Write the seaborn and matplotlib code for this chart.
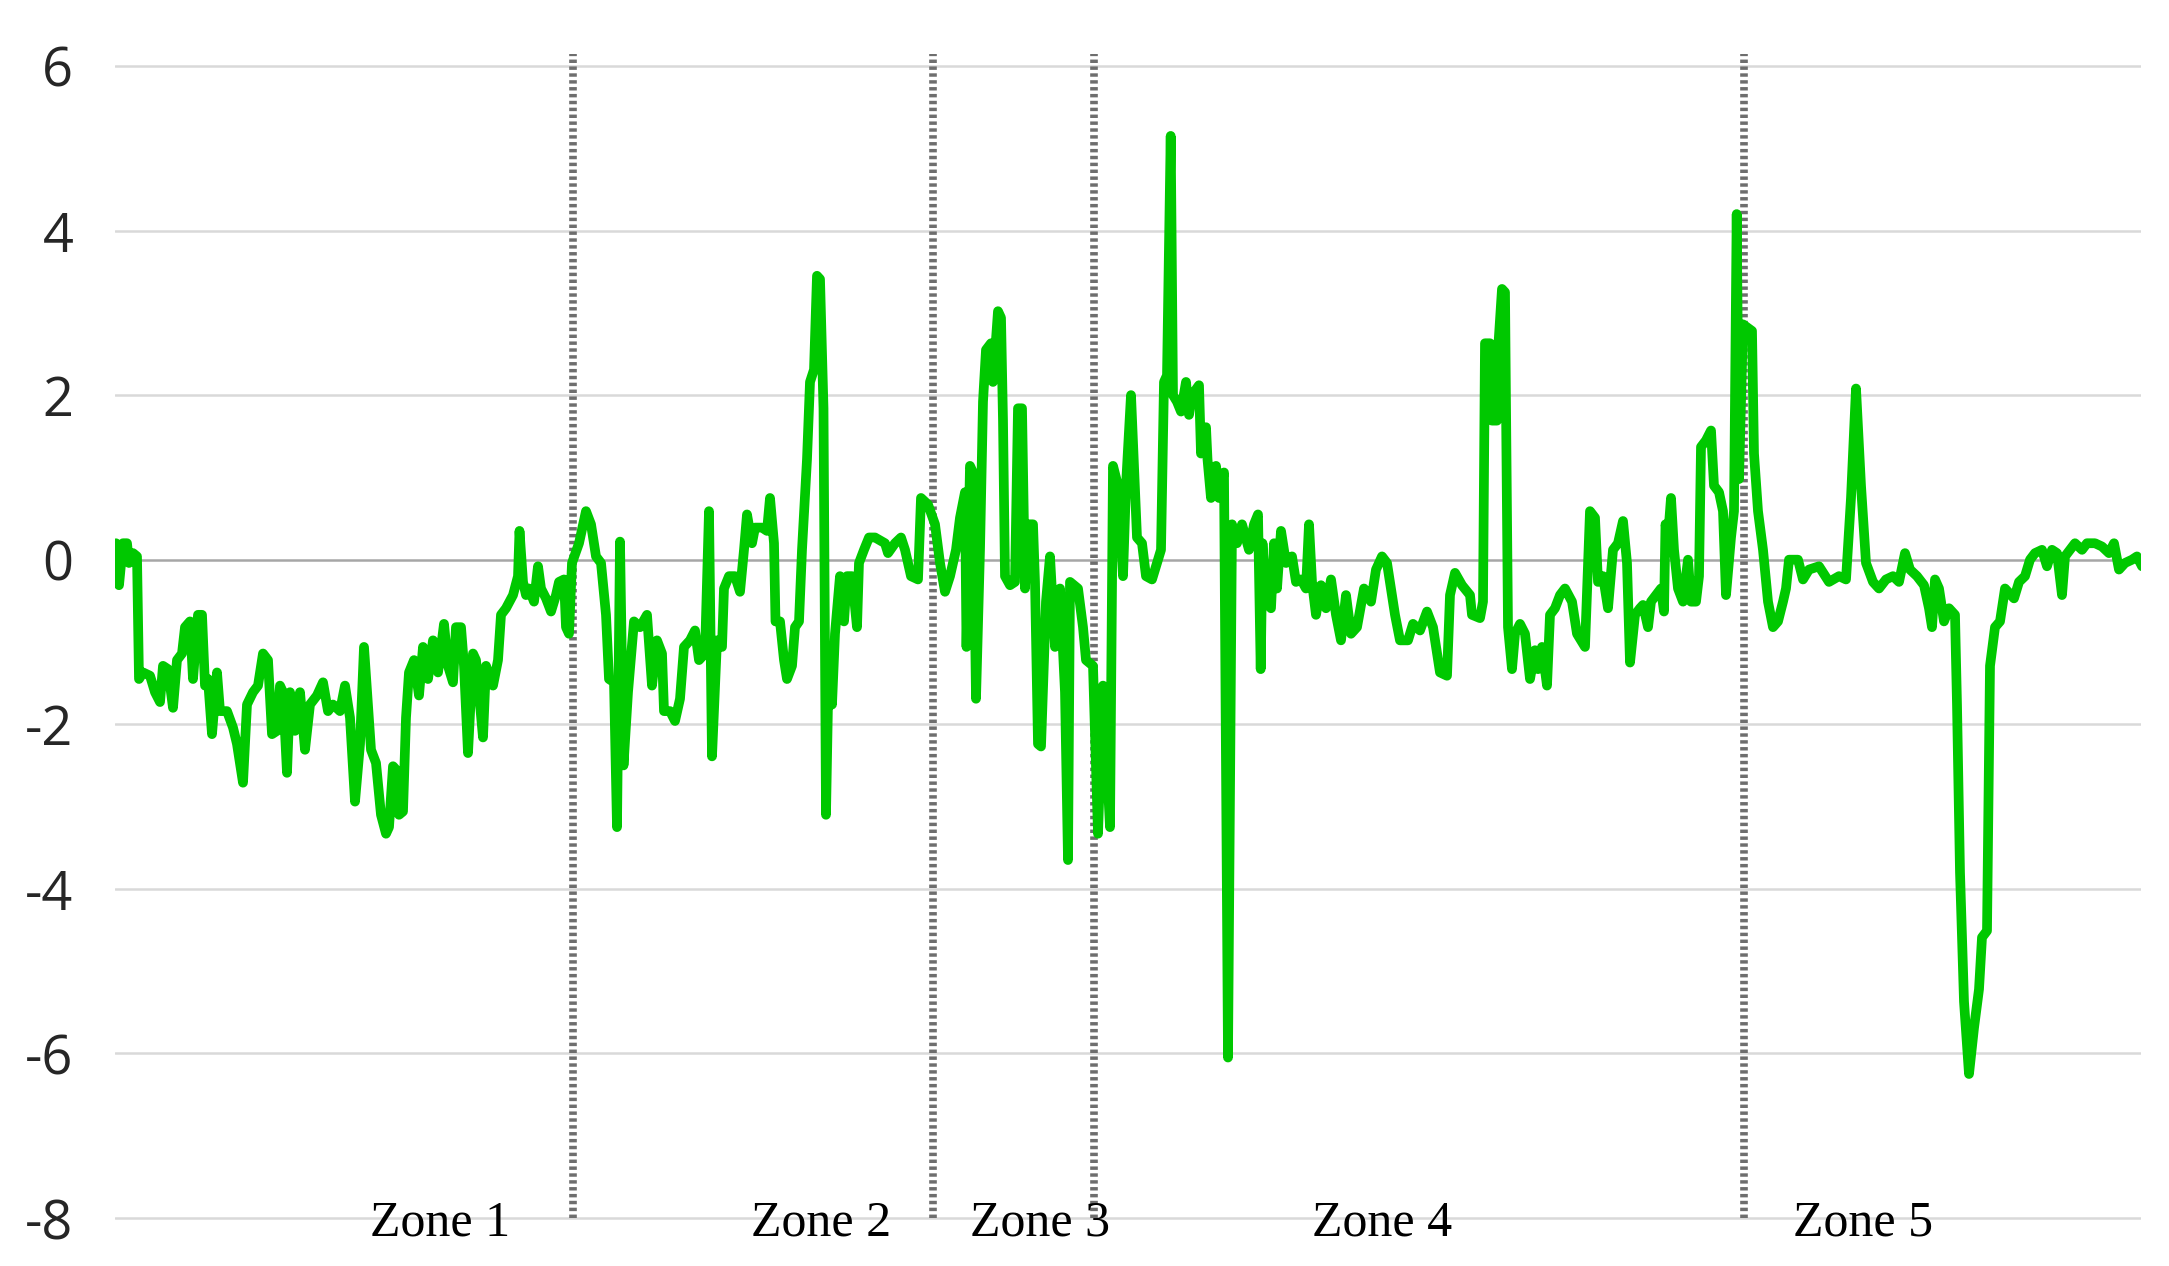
import numpy as np
import pandas as pd
import matplotlib
matplotlib.use("Agg")
import matplotlib.pyplot as plt
import seaborn as sns

# signal, split at the zone borders
zone1_t = [0, 1, 4, 8, 12, 14, 18, 22, 24, 28, 35, 40, 45, 48, 53, 58, 62, 67, 70, 75,
           78, 83, 87, 90, 93, 97, 102, 105, 112, 118, 122, 128, 132, 138, 143, 148, 153,
           157, 162, 165, 168, 172, 175, 180, 185, 190, 195, 202, 208, 213, 218, 225, 230,
           235, 240, 245, 249, 256, 261, 266, 271, 274, 278, 281, 284, 288, 291, 294, 299,
           304, 308, 313, 318, 323, 329, 333, 338, 341, 346, 349, 353, 358, 361, 368, 371,
           378, 383, 386, 391, 398, 403, 404.5, 408, 411, 414, 419, 423, 426, 431, 436, 441,
           444, 449, 451, 454, 457]
zone1_v = [-0.04, 0.2, -0.31, 0.2, 0.2, -0.04, 0.08, 0.04, -1.45, -1.37, -1.41, -1.61, -1.73,
           -1.29, -1.33, -1.8, -1.22, -1.14, -0.82, -0.75, -1.45, -0.67, -0.67, -1.53, -1.45,
           -2.12, -1.37, -1.84, -1.84, -2.04, -2.24, -2.71, -1.76, -1.61, -1.53, -1.14, -1.22,
           -2.12, -2.08, -1.53, -1.61, -2.59, -1.61, -2.08, -1.61, -2.31, -1.76, -1.65, -1.49,
           -1.84, -1.76, -1.84, -1.53, -1.92, -2.94, -2.24, -1.06, -2.31, -2.47, -3.1, -3.33,
           -3.25, -2.51, -2.55, -3.1, -3.06, -1.92, -1.37, -1.22, -1.65, -1.06, -1.45, -0.98,
           -1.37, -0.78, -1.29, -1.49, -0.82, -0.82, -1.29, -2.35, -1.14, -1.22, -2.16, -1.29,
           -1.53, -1.22, -0.67, -0.59, -0.43, -0.2, 0.35, -0.27, -0.43, -0.35, -0.51, -0.08,
           -0.35, -0.47, -0.63, -0.43, -0.27, -0.24, -0.82, -0.9, -0.04]

zone2_t = [464, 471, 476, 481, 486, 491, 494, 499, 502, 505, 508.5, 513, 519, 525, 532, 537,
           542, 547, 549, 555, 560, 565, 569, 575, 580, 584, 590, 594, 597, 602, 607, 609,
           614, 620, 625, 629, 632, 637, 640, 647, 652, 655, 659, 660.5, 665, 669, 672, 677,
           680, 684, 687, 692, 695, 699, 702, 705, 708.5, 711, 714, 717, 720, 725, 729, 732,
           737, 742, 744, 749, 754, 760, 770, 773, 780, 786, 790, 796, 803, 806, 813]
zone2_v = [0.2, 0.59, 0.43, 0.04, -0.04, -0.67, -1.45, -1.49, -3.25, 0.22, -2.5, -1.61, -0.75,
           -0.82, -0.67, -1.53, -0.98, -1.14, -1.84, -1.84, -1.96, -1.69, -1.06, -0.98, -0.86,
           -1.22, -1.14, 0.59, -2.39, -0.98, -1.06, -0.35, -0.2, -0.2, -0.39, 0.12, 0.55, 0.2,
           0.39, 0.39, 0.35, 0.75, 0.2, -0.75, -0.75, -1.22, -1.45, -1.29, -0.82, -0.75, 0.12,
           1.22, 2.16, 2.31, 3.45, 3.41, 1.84, -3.1, -1.06, -1.76, -0.9, -0.2, -0.75, -0.2,
           -0.2, -0.82, -0.04, 0.12, 0.27, 0.27, 0.2, 0.08, 0.2, 0.27, 0.12, -0.2, -0.24, 0.75,
           0.67]

zone3_t = [820, 825, 830, 835, 841, 845, 850, 851.5, 855, 858, 861, 865, 868, 871, 876, 878,
           883, 886, 888, 890, 895, 900, 903, 907, 910, 913, 918, 920, 923, 926, 931, 935,
           940, 945, 950, 953, 955, 963, 968, 971, 978]
zone3_v = [0.43, -0.04, -0.39, -0.2, 0.12, 0.51, 0.82, -1.06, 1.14, 1.06, -1.69, 0.12, 1.92,
           2.55, 2.63, 2.16, 3.02, 2.94, 1.69, -0.2, -0.31, -0.27, 1.84, 1.84, -0.35, 0.43,
           0.43, -0.27, -2.24, -2.27, -0.51, 0.04, -1.06, -0.35, -1.61, -3.65, -0.27, -0.35,
           -0.82, -1.22, -1.29]

zone4_t = [983, 988, 995, 998, 1003, 1008, 1011, 1016, 1022, 1027, 1031, 1037, 1042, 1046,
           1049, 1052, 1055.7, 1058, 1062, 1066, 1071, 1074, 1077, 1084, 1086, 1091, 1092.5,
           1096, 1101, 1104, 1109, 1113, 1117, 1122, 1127, 1134, 1139, 1143, 1145.7, 1147.5,
           1151, 1156, 1159, 1162, 1166, 1171, 1177, 1181, 1186, 1191, 1194, 1197, 1201, 1206,
           1211, 1216, 1221, 1226, 1231, 1236, 1242, 1249, 1256, 1261, 1267, 1272, 1280, 1285,
           1293, 1298, 1305, 1312, 1318, 1325, 1332, 1335, 1340, 1347, 1355, 1357, 1365, 1368,
           1370, 1375, 1377, 1382, 1383.5, 1387, 1390, 1393, 1397, 1400, 1405, 1410, 1415,
           1420, 1423, 1427, 1432, 1435, 1440, 1445, 1450, 1457, 1462, 1470, 1475, 1480, 1483,
           1488, 1493, 1498, 1503, 1508, 1512, 1515, 1520, 1525, 1528, 1533, 1536, 1541, 1546,
           1549, 1550.5, 1553, 1556, 1559, 1563, 1568, 1573, 1576, 1581, 1584, 1586, 1591,
           1596, 1599, 1604, 1608, 1611, 1616, 1619, 1621.7, 1624, 1628]
zone4_v = [-3.33, -1.53, -3.25, 1.14, 0.9, -0.2, 0.9, 2.0, 0.27, 0.2, -0.2, -0.24, -0.04, 0.12,
           2.16, 2.24, 5.15, 2.0, 1.92, 1.8, 2.16, 1.76, 2.0, 2.12, 1.29, 1.61, 1.22, 0.75, 1.14,
           0.75, 1.06, -6.05, 0.43, 0.2, 0.43, 0.12, 0.43, 0.55, -1.33, 0.2, -0.51, -0.59, 0.2,
           -0.35, 0.35, -0.04, 0.04, -0.27, -0.24, -0.35, 0.43, -0.27, -0.67, -0.31, -0.59,
           -0.24, -0.67, -0.98, -0.43, -0.9, -0.82, -0.35, -0.51, -0.12, 0.04, -0.04, -0.67,
           -0.98, -0.98, -0.78, -0.86, -0.63, -0.82, -1.37, -1.41, -0.43, -0.16, -0.31, -0.43,
           -0.67, -0.71, -0.51, 2.63, 2.63, 1.69, 1.69, 2.63, 3.29, 3.25, -0.82, -1.33, -0.9,
           -0.78, -0.9, -1.45, -1.1, -1.33, -1.06, -1.53, -0.67, -0.59, -0.43, -0.35, -0.51,
           -0.9, -1.06, 0.59, 0.51, -0.27, -0.2, -0.59, 0.12, 0.2, 0.47, -0.04, -1.25, -0.67,
           -0.59, -0.55, -0.82, -0.51, -0.43, -0.35, -0.63, 0.43, 0.27, 0.75, 0.12, -0.35,
           -0.51, 0.0, -0.51, -0.51, -0.2, 1.37, 1.45, 1.57, 0.9, 0.82, 0.59, -0.43, 0.27, 0.59,
           4.2, 0.98, 2.86]

zone5_t = [1637, 1639, 1643, 1648, 1653, 1658, 1663, 1668, 1671, 1674, 1683, 1688, 1694, 1704,
           1714, 1724, 1731, 1736, 1741, 1746, 1751, 1758, 1764, 1771, 1778, 1784, 1790, 1795,
           1802, 1809, 1814, 1817, 1820, 1824, 1829, 1834, 1840, 1842, 1845, 1849, 1854, 1859,
           1864, 1867, 1872, 1875, 1880, 1885, 1890, 1899, 1904, 1910, 1915, 1920, 1927, 1932,
           1937, 1942, 1947, 1950, 1955, 1960, 1967, 1972, 1980, 1987, 1994, 1999, 2004, 2010,
           2017, 2022, 2027]
zone5_v = [2.78, 1.29, 0.59, 0.12, -0.51, -0.82, -0.75, -0.51, -0.35, 0.0, 0.0, -0.24, -0.12,
           -0.08, -0.27, -0.2, -0.24, 0.75, 2.08, 0.9, -0.04, -0.27, -0.35, -0.24, -0.2, -0.27,
           0.08, -0.12, -0.2, -0.31, -0.59, -0.82, -0.24, -0.35, -0.75, -0.59, -0.67, -1.76,
           -3.8, -5.37, -6.25, -5.69, -5.22, -4.59, -4.51, -1.29, -0.82, -0.75, -0.35, -0.47,
           -0.27, -0.2, 0.0, 0.08, 0.12, -0.08, 0.12, 0.08, -0.43, 0.04, 0.12, 0.2, 0.12, 0.2,
           0.2, 0.16, 0.08, 0.2, -0.12, -0.04, 0.0, 0.04, -0.08]

zone_borders = [458, 818, 979, 1629]
zone_names = ["Zone 1", "Zone 2", "Zone 3", "Zone 4", "Zone 5"]
zone_label_t = [325, 706, 925, 1267, 1748]
y_ticks = [-8, -6, -4, -2, 0, 2, 4, 6]

df = pd.DataFrame({
    "t": zone1_t + zone2_t + zone3_t + zone4_t + zone5_t,
    "v": zone1_v + zone2_v + zone3_v + zone4_v + zone5_v,
})

sns.set_style("white")
plt.rcParams['font.family'] = ['Open Sans', 'DejaVu Sans']

fig = plt.figure(figsize=(21.69, 12.66), dpi=100)
ax = fig.add_axes([115 / 2169, 0.0054, 2026 / 2169, 0.962])

# horizontal grid
for yv in y_ticks:
    ax.axhline(yv, color='#a6a6a6' if yv == 0 else '#d9d9d9', lw=1.8, zorder=0)

# zone separators
ax.vlines(zone_borders, -8, 6.15, colors='#6e6e6e', linestyles=(0, (0.45, 0.45)),
          linewidth=5.5, zorder=1)

sns.lineplot(data=df, x="t", y="v", ax=ax, color='#00c800', linewidth=7,
             estimator=None, sort=False, zorder=3, solid_joinstyle='round',
             solid_capstyle='round')

for name, tx in zip(zone_names, zone_label_t):
    ax.text(tx, -8, name, ha='center', va='center_baseline', fontsize=36,
            family='Liberation Serif', color='black', zorder=4)

ax.set_xlim(0, 2026)
ax.set_ylim(-8.5, 6.3)
ax.set_yticks(y_ticks)
ax.set_yticklabels([str(v) for v in y_ticks], fontsize=39, color='#262626')
ax.tick_params(axis='y', length=0, pad=30)
ax.set_xticks([])
ax.set_xlabel('')
ax.set_ylabel('')
sns.despine(ax=ax, left=True, bottom=True)

fig.savefig("out.png", dpi=100)
